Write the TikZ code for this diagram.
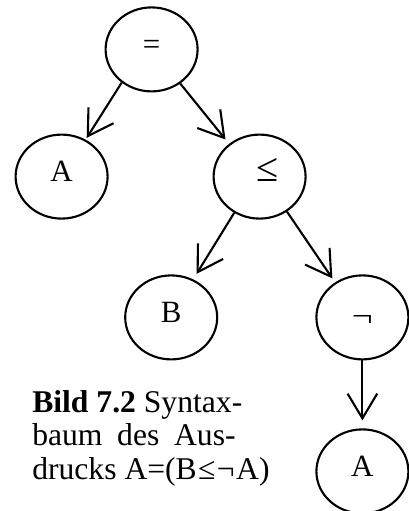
\documentclass[tikz,border=0pt]{standalone}
\usepackage{fontspec}
\usepackage{graphicx}
\setmainfont{Liberation Serif}
\usetikzlibrary{positioning,shapes.geometric,arrows.meta}
\tikzstyle{term}=[draw, ellipse, line width=1.5pt, minimum width=2.3cm, minimum height=2.1cm, inner sep=0pt, font=\fontsize{22}{26}\selectfont, text height=0.66em, text depth=0pt]
\tikzstyle{edge}=[-{Straight Barb[angle=62:0.72cm]}, line width=1.5pt]
\tikzstyle{caption}=[align=left, inner sep=0pt, anchor=north west, font=\fontsize{22.5}{23.9}\selectfont]

\begin{document}
\begin{tikzpicture}
  \useasboundingbox (0,0) rectangle (10.225,12.775);
  % the tree, top to bottom
  \node[term] (eq) at (3.79, 11.54) {=};
  \node[term] (a1) at (1.54, 8.36) {A};
  \node[term] (le) at (6.49, 8.36) {\kern0.42cm\scalebox{1.3}{≤}};
  \node[term] (b) at (4.28, 4.84) {B};
  \node[term] (neg) at (9.06, 4.84) {\raisebox{-0.1cm}{\scalebox{1.2}[1]{¬}}};
  \node[term] (a2) at (9.06, 0.99) {A};
  \node[caption] (cap) at (0.8, 3.03) {\textbf{Bild 7.2} Syntax-\\baum\hspace{0.17cm} des\hspace{0.17cm} Aus-\\drucks A=(B\kern1pt≤\kern1pt¬\kern1pt A)};
  \draw[edge, shorten >=0.05cm] (eq.228) to (a1.57);
  \draw[edge, shorten >=0.14cm] (eq.310) to (le.133);
  \draw[edge, shorten >=0.16cm] (le.235) to (b.60);
  \draw[edge, shorten >=0.12cm] (le.308) to (neg.128);
  \draw[edge, shorten >=0.2cm] (neg) to (a2);
\end{tikzpicture}
\end{document}
